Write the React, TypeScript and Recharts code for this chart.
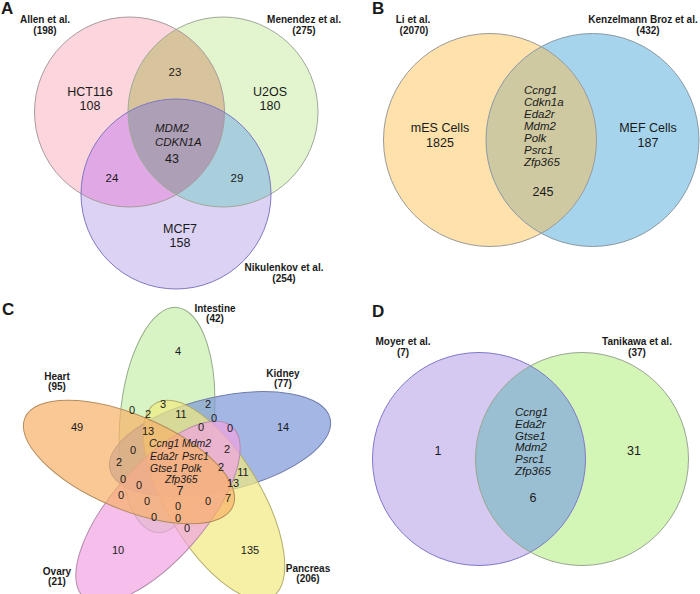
import React from "react";
import { ScatterChart, Scatter, XAxis, YAxis } from "recharts";

const W = 700;
const H = 594;
const FONT = '"Liberation Sans", Arial, Helvetica, sans-serif';

// ---------- values ----------
// A
const setsA = ["Allen et al.", "Menendez et al.", "Nikulenkov et al."];
const totalsA = [198, 275, 254];
const cellLinesA = ["HCT116", "U2OS", "MCF7"];
const uniqueA = [108, 180, 158];
const pairsA = [23, 24, 29]; // Allen∩Menendez, Allen∩Nikulenkov, Menendez∩Nikulenkov
const coreA = 43;
const genesA = ["MDM2", "CDKN1A"];

// B
const setsB = ["Li et al.", "Kenzelmann Broz et al."];
const totalsB = [2070, 432];
const cellsB = ["mES Cells", "MEF Cells"];
const uniqueB = [1825, 187];
const sharedB = 245;
const genesB = ["Ccng1", "Cdkn1a", "Eda2r", "Mdm2", "Polk", "Psrc1", "Zfp365"];

// C
const tissuesC = ["Intestine", "Kidney", "Pancreas", "Ovary", "Heart"];
const totalsC = [42, 77, 206, 21, 95];
const uniqueC = [4, 14, 135, 10, 49];
const innerC = [0, 2, 3, 11, 2, 0, 0, 0, 13, 0, 2, 2, 2, 11, 13, 7, 0, 0, 0, 0, 0, 0, 0, 0, 0];
const coreC = 7;
const genesC = ["Ccng1", "Mdm2", "Eda2r", "Psrc1", "Gtse1", "Polk", "Zfp365"];

// D
const setsD = ["Moyer et al.", "Tanikawa et al."];
const totalsD = [7, 37];
const uniqueD = [1, 31];
const sharedD = 6;
const genesD = ["Ccng1", "Eda2r", "Gtse1", "Mdm2", "Psrc1", "Zfp365"];

// ---------- layout (page coordinates) ----------
const circlesAPos = [[129.5, 112], [223, 112], [176, 194]];
const circlesARad = 95;
const circlesAFill = ["#fdd5dc", "#e2f5cf", "#dcd3f4"];
const circlesAStroke = ["#a89a9c", "#a0a89a", "#8078c0"];
const overlapsA = [
  { base: 1, clips: [0], fill: "#d8c49c" },
  { base: 2, clips: [0], fill: "#e0a8e4" },
  { base: 2, clips: [1], fill: "#a9cfdc" },
  { base: 2, clips: [0, 1], fill: "#ad9fb5" },
];

const circlesBPos = [[490, 140], [592.5, 140]];
const circlesBRad = 106.5;
const circlesBFill = ["#fee1ab", "#a5d4ec"];
const circlesBStroke = ["#9a9a9a", "#8c9aa4"];
const overlapsB = [{ base: 1, clips: [0], fill: "#cfc9a2" }];

const circlesDPos = [[479, 459], [582, 459]];
const circlesDRad = 106.5;
const circlesDFill = ["#d5c9f2", "#d3f5b5"];
const circlesDStroke = ["#8078c8", "#9aa494"];
const overlapsD = [{ base: 1, clips: [0], fill: "#9bbfd2" }];

// ellipses in drawing order: intestine, kidney, pancreas, ovary, heart
const ellipsesCPos = [[167, 420], [220, 444], [214, 500], [158, 512], [129, 462]];
const ellipsesCAngle = [-85, -13, 59, 131, 23];
const ellipsesCFill = ["#c7eeab", "#7e97d8", "#f1ea7f", "#f1a2e2", "#f8b068"];
const ellipsesCStroke = ["#94ac88", "#6f7cab", "#b4ac6a", "#b48cac", "#b48c5c"];
const ellipseRx = 113;
const ellipseRy = 47;

const setPosA = [[45, 23], [304, 23], [284, 271]];
const cellPosA = [[90, 96], [270, 96], [180, 233]];
const pairPosA = [[175, 76], [112, 182], [237, 182]];
const genePosA = [155, 132];
const corePosA = [172, 163];

const setPosB = [[413, 23], [643, 23]];
const totalPosB = [[414, 34], [648, 34]];
const cellPosB = [[440, 132], [648, 132]];
const genePosB = [524, 94];
const sharedPosB = [543, 196];

const tissuePosC = [[215, 312], [283, 377], [308, 572], [57, 575], [57, 380]];
const uniquePosC = [[178, 351], [283, 427], [250, 550], [118, 550], [77, 427]];
const innerPosC = [
  [132, 410], [148, 414], [163, 404], [181, 414], [208, 404], [214, 418], [201, 427], [230, 428],
  [148, 431], [133, 450], [119, 462], [227, 449], [221, 467], [243, 472], [233, 483], [228, 498],
  [123, 479], [139, 485], [121, 495], [147, 501], [178, 506], [208, 501], [154, 517], [178, 518],
  [187, 528],
];
const corePosC = [180, 490];
const genePosC = [[149, 443], [182, 443], [150, 456], [182, 456], [150, 468], [181, 468], [165, 479]];

const setPosD = [[403, 345], [637, 345]];
const uniquePosD = [[438, 455], [634, 455]];
const genePosD = [515, 416];
const sharedPosD = [533, 502];

// ---------- text styles ----------
const styles: Record<string, React.SVGProps<SVGTextElement>> = {
  letter: { fontSize: 17, fontWeight: 700 },
  set: { fontSize: 10, fontWeight: 700 },
  name: { fontSize: 12.5 },
  num: { fontSize: 11.5 },
  big: { fontSize: 12.5 },
  gene: { fontSize: 11.5, fontStyle: "italic" },
  geneS: { fontSize: 10.5, fontStyle: "italic" },
  small: { fontSize: 11 },
};

type Label = { x: number; y: number; text: string; kind: string; anchor?: string };

const labels: Label[] = [];
const add = (x: number, y: number, text: string | number, kind: string, anchor = "middle") =>
  labels.push({ x, y, text: String(text), kind, anchor });

// panel letters
add(1, 14, "A", "letter", "start");
add(372, 14, "B", "letter", "start");
add(2, 315, "C", "letter", "start");
add(372, 317, "D", "letter", "start");

// A
setsA.forEach((s, i) => {
  add(setPosA[i][0], setPosA[i][1], s, "set");
  add(setPosA[i][0], setPosA[i][1] + 11, `(${totalsA[i]})`, "set");
});
cellLinesA.forEach((c, i) => {
  add(cellPosA[i][0], cellPosA[i][1], c, "name");
  add(cellPosA[i][0], cellPosA[i][1] + 14, uniqueA[i], "name");
});
pairsA.forEach((v, i) => add(pairPosA[i][0], pairPosA[i][1], v, "num"));
genesA.forEach((g, i) => add(genePosA[0], genePosA[1] + i * 13.5, g, "gene", "start"));
add(corePosA[0], corePosA[1], coreA, "big");

// B
setsB.forEach((s, i) => {
  add(setPosB[i][0], setPosB[i][1], s, "set");
  add(totalPosB[i][0], totalPosB[i][1], `(${totalsB[i]})`, "set");
});
cellsB.forEach((c, i) => {
  add(cellPosB[i][0], cellPosB[i][1], c, "name");
  add(cellPosB[i][0], cellPosB[i][1] + 15, uniqueB[i], "name");
});
genesB.forEach((g, i) => add(genePosB[0], genePosB[1] + i * 12, g, "gene", "start"));
add(sharedPosB[0], sharedPosB[1], sharedB, "big");

// C
tissuesC.forEach((t, i) => {
  add(tissuePosC[i][0], tissuePosC[i][1], t, "set");
  add(tissuePosC[i][0], tissuePosC[i][1] + 10, `(${totalsC[i]})`, "set");
});
uniqueC.forEach((v, i) => add(uniquePosC[i][0], uniquePosC[i][1] + 4, v, "small"));
innerC.forEach((v, i) => add(innerPosC[i][0], innerPosC[i][1] + 4, v, "small"));
add(corePosC[0], corePosC[1] + 5, coreC, "big");
genesC.forEach((g, i) => add(genePosC[i][0], genePosC[i][1] + 4, g, "geneS", "start"));

// D
setsD.forEach((s, i) => {
  add(setPosD[i][0], setPosD[i][1], s, "set");
  add(setPosD[i][0], setPosD[i][1] + 11, `(${totalsD[i]})`, "set");
});
uniqueD.forEach((v, i) => add(uniquePosD[i][0], uniquePosD[i][1], v, "big"));
genesD.forEach((g, i) => add(genePosD[0], genePosD[1] + i * 11.8, g, "gene", "start"));
add(sharedPosD[0], sharedPosD[1], sharedD, "big");

// ---------- tables for the series ----------
type CircleRow = { x: number; y: number; r: number; id: string; fill: string; stroke: string };

function buildCircles(panel: string, pos: number[][], r: number, fills: string[], strokes: string[]): CircleRow[] {
  return pos.map((p, i) => ({ x: p[0], y: p[1], r, id: `clip-${panel}-${i}`, fill: fills[i], stroke: strokes[i] }));
}

function buildOverlaps(circles: CircleRow[], overlaps: { base: number; clips: number[]; fill: string }[]) {
  return overlaps.map((o) => ({
    ...circles[o.base],
    fill: o.fill,
    clips: o.clips.map((c) => circles[c].id),
  }));
}

const circA = buildCircles("A", circlesAPos, circlesARad, circlesAFill, circlesAStroke);
const circB = buildCircles("B", circlesBPos, circlesBRad, circlesBFill, circlesBStroke);
const circD = buildCircles("D", circlesDPos, circlesDRad, circlesDFill, circlesDStroke);
const allCircles = [...circA, ...circB, ...circD];
const allOverlaps = [
  ...buildOverlaps(circA, overlapsA),
  ...buildOverlaps(circB, overlapsB),
  ...buildOverlaps(circD, overlapsD),
];
const ellipses = ellipsesCPos.map((p, i) => ({
  x: p[0],
  y: p[1],
  angle: ellipsesCAngle[i],
  fill: ellipsesCFill[i],
  stroke: ellipsesCStroke[i],
}));

// px per data unit (domain spans the whole chart)
const K = 1;

const CircleFill = (props: any) => {
  const { cx, cy, payload } = props;
  return (
    <g>
      <defs>
        <clipPath id={payload.id}>
          <circle cx={cx} cy={cy} r={payload.r * K} />
        </clipPath>
      </defs>
      <circle cx={cx} cy={cy} r={payload.r * K} fill={payload.fill} />
    </g>
  );
};

const OverlapFill = (props: any) => {
  const { cx, cy, payload } = props;
  let node: React.ReactElement = <circle cx={cx} cy={cy} r={payload.r * K} fill={payload.fill} />;
  payload.clips.forEach((c: string) => {
    node = <g clipPath={`url(#${c})`}>{node}</g>;
  });
  return node;
};

const CircleEdge = (props: any) => {
  const { cx, cy, payload } = props;
  return <circle cx={cx} cy={cy} r={payload.r * K} fill="none" stroke={payload.stroke} strokeWidth={1} />;
};

const EllipseShape = (props: any) => {
  const { cx, cy, payload } = props;
  return (
    <ellipse
      cx={cx}
      cy={cy}
      rx={ellipseRx * K}
      ry={ellipseRy * K}
      transform={`rotate(${payload.angle} ${cx} ${cy})`}
      fill={payload.fill}
      fillOpacity={0.7}
      stroke={payload.stroke}
      strokeWidth={1}
    />
  );
};

const TextShape = (props: any) => {
  const { cx, cy, payload } = props;
  return (
    <text
      x={cx}
      y={cy}
      textAnchor={payload.anchor}
      fontFamily={FONT}
      fill="#1a1a1a"
      {...styles[payload.kind]}
    >
      {payload.text}
    </text>
  );
};

export default function App() {
  return (
    <div style={{ position: "absolute", left: 0, top: 0, width: W, height: H, background: "#fff" }}>
      <ScatterChart width={W} height={H} margin={{ top: 0, right: 0, bottom: 0, left: 0 }}>
        <XAxis type="number" dataKey="x" domain={[0, W]} hide />
        <YAxis type="number" dataKey="y" domain={[0, H]} reversed hide />
        <Scatter data={allCircles} shape={CircleFill} isAnimationActive={false} />
        <Scatter data={allOverlaps} shape={OverlapFill} isAnimationActive={false} />
        <Scatter data={allCircles} shape={CircleEdge} isAnimationActive={false} />
        <Scatter data={ellipses} shape={EllipseShape} isAnimationActive={false} />
        <Scatter data={labels} shape={TextShape} isAnimationActive={false} />
      </ScatterChart>
    </div>
  );
}
